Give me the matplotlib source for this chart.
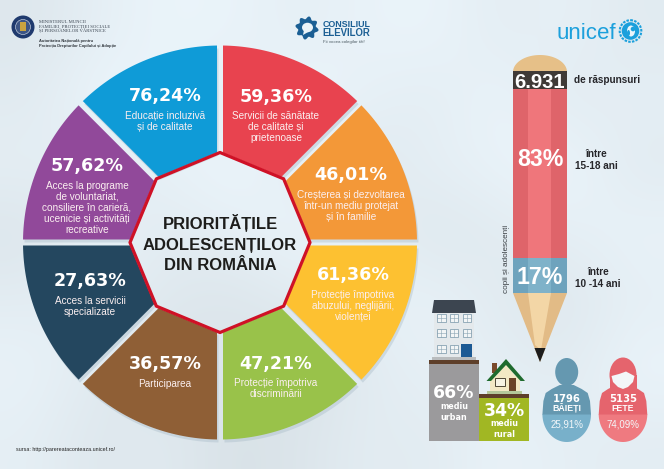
import numpy as np
import matplotlib
matplotlib.use("Agg")
import matplotlib.pyplot as plt
from matplotlib.patches import Polygon, Circle, Ellipse, Rectangle

# ---------- data ----------
segment_percent = ["59,36%", "46,01%", "61,36%", "47,21%", "36,57%", "27,63%", "57,62%", "76,24%"]
segment_labels = [
    ["Servicii de sănătate", "de calitate și", "prietenoase"],
    ["Creșterea și dezvoltarea", "într-un mediu protejat", "și în familie"],
    ["Protecție împotriva", "abuzului, neglijării,", "violenței"],
    ["Protecție împotriva", "discriminării"],
    ["Participarea"],
    ["Acces la servicii", "specializate"],
    ["Acces la programe", "de voluntariat,", "consiliere în carieră,", "ucenicie și activități", "recreative"],
    ["Educație incluzivă", "și de calitate"],
]
segment_colors = ["#e8434f", "#f39838", "#fdc131", "#99c24a", "#8f5f36", "#24475f", "#91499a", "#0f9bd7"]
title_lines = ["PRIORITĂȚILE", "ADOLESCENȚILOR", "DIN ROMÂNIA"]
age_shares = [83, 17]
age_labels = ["83%", "17%"]
residence_labels = [["66%", "mediu", "urban"], ["34%", "mediu", "rural"]]
gender_counts = ["1796", "5135"]
gender_names = ["BĂIEȚI", "FETE"]
gender_shares = ["25,91%", "74,09%"]

SANS = "Liberation Sans"
BOLD_WIDE = "DejaVu Sans"

fig = plt.figure(figsize=(6.64, 4.69), dpi=100)
ax = fig.add_axes([0, 0, 1, 1])
ax.set_xlim(0, 664)
ax.set_ylim(469, 0)
ax.axis("off")

# ---------- soft background ----------
bg = np.array([
    [232, 240, 246, 245, 240, 244, 246, 238, 242, 236],
    [236, 248, 244, 238, 248, 242, 238, 246, 236, 240],
    [240, 236, 242, 248, 238, 234, 240, 244, 248, 236],
    [230, 244, 236, 240, 246, 242, 232, 236, 240, 244],
    [238, 240, 234, 230, 236, 240, 244, 236, 232, 240],
    [244, 236, 228, 232, 226, 236, 242, 240, 236, 246],
    [240, 232, 236, 226, 230, 238, 236, 244, 240, 238],
]) / 255.0
bg_rgb = np.dstack([bg * 0.955, bg * 0.995, np.minimum(bg * 1.02, 1.0)])
ax.imshow(bg_rgb, extent=(0, 664, 469, 0), interpolation="bicubic", aspect="auto", zorder=0)


def txt(x, y, s, size, color="white", weight="normal", family=SANS, ha="center", **kw):
    """Place text so that its capitals are vertically centred on y (pixels)."""
    em = size * 100 / 72
    return ax.text(x, y + 0.36 * em, s, fontsize=size, color=color, fontweight=weight,
                   family=family, ha=ha, va="baseline", zorder=kw.pop("zorder", 6), **kw)


# ---------- ring of segments ----------
cx, cy, R, r_in, gap = 220.0, 242.5, 197.0, 90.0, 3.0


def pt(angle, radius):
    return cx + radius * np.cos(angle), cy - radius * np.sin(angle)


for i, col in enumerate(segment_colors):
    a_hi = np.radians(90 - 45 * i)
    a_lo = a_hi - np.radians(45)
    arc = np.linspace(a_hi - np.arcsin(gap / R), a_lo + np.arcsin(gap / R), 40)
    verts = [pt(t, R) for t in arc]
    verts.append(pt(a_lo + np.arcsin(gap / r_in), r_in))
    verts.append(pt(a_hi - np.arcsin(gap / r_in), r_in))
    v = np.array(verts)
    ax.add_patch(Polygon(v + [1.5, 3.0], closed=True, fc="#9fb4c2", ec="none", alpha=0.35, zorder=1))
    ax.add_patch(Polygon(v, closed=True, fc=col, ec="none", zorder=2))

oct_ang = np.radians(np.arange(0, 360, 45))
ax.add_patch(Polygon([pt(t, r_in) for t in oct_ang], closed=True, fc="none", ec="#cf1126",
                     lw=2.3, joinstyle="round", zorder=3))

pct_pos = [(276, 96), (351, 174), (353, 274), (276, 363), (165, 363), (90, 280), (87, 165), (165, 95)]
first_line = [115, 194, 294, 382, 383, 300, 185, 115]
line_step = [11.4, 11.4, 11.4, 11.4, 11.4, 11.4, 11.0, 11.6]
for i in range(8):
    x, y = pct_pos[i]
    txt(x, y, segment_percent[i], 12.6, weight="bold", family=BOLD_WIDE)
    for j, line in enumerate(segment_labels[i]):
        txt(x, first_line[i] + j * line_step[i], line, 7.2, color="#fbeff0")

for y, line in zip([222.5, 244, 264], title_lines):
    txt(220, y, line, 12.0, color="#1d1d1b", weight="bold")

txt(16, 449, "sursa: http://parereataconteaza.unicef.ro/", 3.85, color="#222222", ha="left")

# ---------- logos ----------
ax.add_patch(Circle((23, 27), 11.5, fc="#1f3a6e", ec="none", zorder=4))
ax.add_patch(Circle((23, 27), 7.5, fc="#3c5585", ec="#dfe6ee", lw=0.4, zorder=5))
ax.add_patch(Rectangle((20, 22), 6, 9, fc="#c9a33f", ec="none", zorder=6))
for y, s in zip([21.5, 26.5, 31], ["MINISTERUL MUNCII", "FAMILIEI, PROTECȚIEI SOCIALE", "ȘI PERSOANELOR VÂRSTNICE"]):
    txt(39, y, s, 3.4, color="#3a4450", family="Liberation Serif", ha="left")
for y, s in zip([40.5, 45.5], ["Autoritatea Națională pentru", "Protecția Drepturilor Copilului și Adopție"]):
    txt(39, y, s, 2.9, color="#30363c", weight="bold", ha="left")

gear_t = np.radians(np.arange(0, 360, 2))
gear_r = 10.3 + 1.4 * np.sin(8 * gear_t)
ax.add_patch(Polygon(np.c_[307 + gear_r * np.cos(gear_t), 28 + gear_r * np.sin(gear_t)],
                     closed=True, fc="#1b5f94", ec="none", zorder=4))
ax.add_patch(Ellipse((307.5, 27.5), 11, 9.5, fc="#eaf3f8", ec="none", zorder=5))
ax.add_patch(Polygon([(304, 30), (303, 35), (309, 31.5)], closed=True, fc="#eaf3f8", ec="none", zorder=5))
txt(322.5, 24, "CONSILIUL", 6.4, color="#1b5f94", weight="bold", ha="left")
txt(322.5, 32.5, "ELEVILOR", 6.9, color="#1b5f94", weight="bold", ha="left")
txt(323, 41, "Fii vocea colegilor tăi!", 3.2, color="#4b5a62", ha="left")

txt(557, 31, "unicef", 16.0, color="#1ca0dc", ha="left")
ax.add_patch(Circle((630.5, 31), 10.8, fc="none", ec="#1ca0dc", lw=1.5, ls=(0, (1.2, 0.6)), zorder=4))
ax.add_patch(Circle((630.5, 31), 8.8, fc="#1ca0dc", ec="none", zorder=5))
ax.add_patch(Ellipse((631, 31), 8, 11, fc="#eaf5fb", ec="none", zorder=6))
ax.add_patch(Circle((633, 29), 2.3, fc="#1ca0dc", ec="none", zorder=7))
ax.add_patch(Ellipse((628.5, 33), 3, 6, fc="#1ca0dc", ec="none", zorder=7))

# ---------- pencil ----------
px0, px1, px2, px3 = 513.0, 528.0, 551.0, 567.0
dome_t = np.linspace(0, np.pi, 40)
ax.add_patch(Polygon(np.c_[540 + 27 * np.cos(dome_t), 72 - 17 * np.sin(dome_t)], closed=True,
                     fc="#e6c088", ec="none", zorder=2))
ax.add_patch(Rectangle((px0, 71.5), px3 - px0, 17.5, fc="#3f3a37", ec="none", zorder=3))
txt(540, 80.5, "6.931", 14.6, weight="bold", zorder=6)

y_bottom = 293.0
unit = (y_bottom - 89.0) / sum(age_shares)
ys = [89.0, 89.0 + age_shares[0] * unit, y_bottom]
band_cols = [("#df646a", "#ef767b"), ("#6ea3bd", "#7fb2c9")]
for k in range(2):
    side, mid = band_cols[k]
    ax.bar(px0, ys[k + 1] - ys[k], bottom=ys[k], width=px3 - px0, align="edge", color=side, zorder=2)
    ax.bar(px1, ys[k + 1] - ys[k], bottom=ys[k], width=px2 - px1, align="edge", color=mid, zorder=3)
txt(540, 158, age_labels[0], 16.7, weight="bold")
txt(540, 276, age_labels[1], 16.7, weight="bold")

ax.add_patch(Polygon([(px0, 293), (px3, 293), (540, 362)], closed=True, fc="#e2bb86", ec="none", zorder=2))
ax.add_patch(Polygon([(px1, 293), (px2, 293), (541, 350), (535, 345)], closed=True, fc="#f3d6a6", ec="none", zorder=3))
ax.add_patch(Polygon([(534.5, 348), (545.5, 348), (540, 362)], closed=True, fc="#1c1c1c", ec="none", zorder=4))

txt(574, 79, "de răspunsuri", 7.2, color="#26262a", weight="bold", ha="left")
txt(596, 153.5, "între", 7.2, color="#26262a", weight="bold")
txt(596, 165.5, "15-18 ani", 7.2, color="#26262a", weight="bold")
txt(598, 271, "între", 7.2, color="#26262a", weight="bold")
txt(598, 283, "10 -14 ani", 7.2, color="#26262a", weight="bold")
ax.text(507, 259, "copii și adolescenți", fontsize=5.9, color="#3a3f44", family=SANS,
        rotation=90, ha="center", va="center", zorder=6)

# ---------- urban / rural blocks ----------
base_y = 441.0
block_heights = [77.0, 43.0]
res_cols = ["#9b9a9c", "#a1b723"]
res_x = [429, 479]
res_centre = [454, 504]
res_text_y = [(392, 406, 417), (410, 423, 434)]
for k in range(2):
    h = block_heights[k]
    ax.bar(res_x[k], -h, bottom=base_y, width=50, align="edge", color=res_cols[k], zorder=2)
    ax.add_patch(Rectangle((res_x[k], base_y - h - 4), 50, 4, fc="#5e3f2a", ec="none", zorder=3))
    txt(res_centre[k], res_text_y[k][0], residence_labels[k][0], 12.4, weight="bold", family=BOLD_WIDE)
    txt(res_centre[k], res_text_y[k][1], residence_labels[k][1], 5.8, weight="bold", family=BOLD_WIDE)
    txt(res_centre[k], res_text_y[k][2], residence_labels[k][2], 5.8, weight="bold", family=BOLD_WIDE)

# tall building
ax.add_patch(Rectangle((434, 312), 40, 46, fc="#e4e9ec", ec="none", zorder=3))
ax.add_patch(Polygon([(434, 300), (474, 300), (476, 313), (432, 313)], closed=True, fc="#3c4550", ec="none", zorder=4))
ax.add_patch(Rectangle((432, 357), 44, 3, fc="#b9bcbe", ec="none", zorder=3))
for row, wy in enumerate([314, 329, 345]):
    for col, wx in enumerate([437, 449.5, 462.5]):
        if row == 2 and col == 2:
            ax.add_patch(Rectangle((461, 344), 11, 13, fc="#1d5a94", ec="none", zorder=5))
            continue
        ax.add_patch(Rectangle((wx, wy), 8.5, 8.5, fc="#f2f5f6", ec="#88a3b3", lw=0.6, zorder=5))
        ax.plot([wx + 4.25, wx + 4.25], [wy, wy + 8.5], color="#88a3b3", lw=0.4, zorder=6)
        ax.plot([wx, wx + 8.5], [wy + 4.25, wy + 4.25], color="#88a3b3", lw=0.4, zorder=6)

# small house
ax.add_patch(Rectangle((491.5, 363), 5, 10, fc="#7a4a2c", ec="none", zorder=3))
ax.add_patch(Rectangle((490, 376), 30, 17.5, fc="#f3e8c4", ec="none", zorder=3))
ax.add_patch(Polygon([(491, 382), (506, 364), (520, 382)], closed=True, fc="#f3e8c4", ec="none", zorder=3))
ax.add_patch(Polygon([(486.5, 381), (506, 359), (525, 381), (520.5, 381), (506, 365), (491, 381)], closed=True,
                     fc="#1f6b2e", ec="none", zorder=4))
ax.add_patch(Rectangle((495, 378), 10, 8, fc="#f7f3e3", ec="#4e4636", lw=0.7, zorder=5))
ax.add_patch(Rectangle((509, 378), 7, 15.5, fc="#6b4328", ec="none", zorder=5))
ax.add_patch(Rectangle((487, 391), 35, 3, fc="#b4c79a", ec="none", zorder=5))

# ---------- boy and girl ----------
half = np.linspace(0, np.pi, 50)
for k, (cxp, dark, light) in enumerate([(566.7, "#6598b0", "#78b0ca"), (623.0, "#e5646d", "#ef7a80")]):
    ax.add_patch(Polygon(np.c_[cxp + 24.3 * np.cos(half), 414 + 28 * np.sin(half)], closed=True,
                         fc=light, ec="none", zorder=3))
    ax.add_patch(Polygon([(cxp - 7, 385), (cxp + 7, 385), (cxp + 15, 389), (cxp + 21, 393), (cxp + 23.3, 401),
                          (cxp + 24.3, 414.5), (cxp - 24.3, 414.5), (cxp - 23.3, 401), (cxp - 21, 393), (cxp - 15, 389)],
                         closed=True, fc=dark, ec="none", zorder=3))
    if k == 0:
        ax.add_patch(Ellipse((cxp, 372), 23, 28, fc=dark, ec="none", zorder=4))
    else:
        ax.add_patch(Ellipse((cxp, 375), 27, 35, fc=dark, ec="none", zorder=4))
        ax.add_patch(Rectangle((cxp - 13.5, 375), 27, 18, fc=dark, ec="none", zorder=4))
        ax.add_patch(Polygon([(cxp - 11.5, 376), (cxp - 4, 374), (cxp + 3, 371.5), (cxp + 11.5, 376), (cxp + 10, 382),
                              (cxp + 5, 387), (cxp, 389), (cxp - 5, 387), (cxp - 10, 382)],
                             closed=True, fc="#f3f6f8", ec="none", zorder=5))
    txt(cxp, 398.5, gender_counts[k], 7.2, weight="bold", family=BOLD_WIDE)
    txt(cxp, 407.5, gender_names[k], 6.3, weight="bold")
    txt(cxp, 424, gender_shares[k], 7.0, color="#f3f7f9")

fig.savefig("out.png", dpi=100)
